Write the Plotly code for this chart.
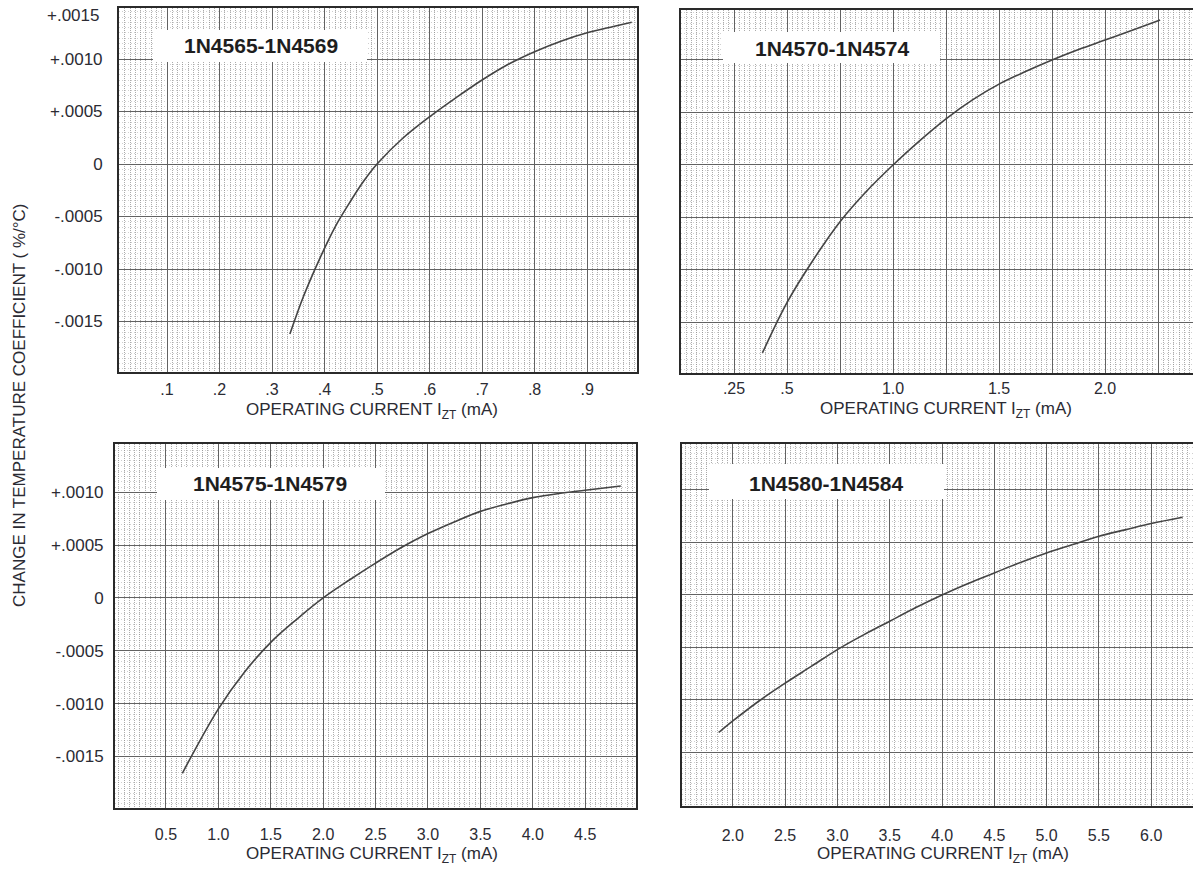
import plotly.graph_objects as go

# ---------------- data ----------------
names = ["1N4565-1N4569", "1N4570-1N4574", "1N4575-1N4579", "1N4580-1N4584"]

tl_x = [0.334, 0.36, 0.39, 0.42, 0.45, 0.475, 0.50, 0.55, 0.60, 0.65, 0.70, 0.75,
        0.80, 0.85, 0.90, 0.95, 0.985]
tl_y = [-0.00162, -0.00126, -0.00091, -0.00060, -0.00035, -0.00016, 0.0, 0.00025,
        0.00045, 0.00063, 0.00080, 0.00095, 0.00107, 0.00117, 0.00125, 0.00131, 0.00135]

tr_x = [0.384, 0.5, 0.625, 0.75, 0.875, 1.0, 1.125, 1.25, 1.375, 1.5, 1.625, 1.75,
        1.875, 2.0, 2.125, 2.26]
tr_y = [-0.00179, -0.00131, -0.00090, -0.00054, -0.00025, 0.0, 0.00023, 0.00044,
        0.00062, 0.00077, 0.00089, 0.00100, 0.00110, 0.00119, 0.00128, 0.00138]

bl_x = [0.656, 1.0, 1.25, 1.5, 1.75, 2.0, 2.25, 2.5, 2.75, 3.0, 3.25, 3.5, 3.75,
        4.0, 4.25, 4.5, 4.84]
bl_y = [-0.00166, -0.00105, -0.00070, -0.00042, -0.00020, 0.0, 0.00017, 0.00033,
        0.00048, 0.00061, 0.00072, 0.00082, 0.00089, 0.00095, 0.00099, 0.00102, 0.00106]

br_x = [1.865, 2.0, 2.25, 2.5, 2.75, 3.0, 3.25, 3.5, 3.75, 4.0, 4.25, 4.5, 4.75,
        5.0, 5.25, 5.5, 5.75, 6.0, 6.3]
br_y = [-0.00131, -0.00120, -0.00101, -0.00084, -0.00068, -0.00052, -0.00038, -0.00025,
        -0.00012, 0.0, 0.00011, 0.00021, 0.00031, 0.00040, 0.00048, 0.00056, 0.00062,
        0.00068, 0.00074]

# tick values / labels
y_tickvals = [-0.0015, -0.0010, -0.0005, 0.0, 0.0005, 0.0010]
y_ticktext = ["-.0015", "-.0010", "-.0005", "0", "+.0005", "+.0010"]
y_top_label = "+.0015"

tl_xtickvals = [0.1, 0.2, 0.3, 0.4, 0.5, 0.6, 0.7, 0.8, 0.9]
tl_xticktext = [".1", ".2", ".3", ".4", ".5", ".6", ".7", ".8", ".9"]
tr_xtickvals = [0.25, 0.5, 0.75, 1.0, 1.25, 1.5, 1.75, 2.0, 2.25]
tr_xticktext = [".25", ".5", "", "1.0", "", "1.5", "", "2.0", ""]
bl_xtickvals = [0.5, 1.0, 1.5, 2.0, 2.5, 3.0, 3.5, 4.0, 4.5]
bl_xticktext = ["0.5", "1.0", "1.5", "2.0", "2.5", "3.0", "3.5", "4.0", "4.5"]
br_xtickvals = [2.0, 2.5, 3.0, 3.5, 4.0, 4.5, 5.0, 5.5, 6.0]
br_xticktext = ["2.0", "2.5", "3.0", "3.5", "4.0", "4.5", "5.0", "5.5", "6.0"]

x_title = "OPERATING CURRENT I<sub>ZT</sub> (mA)"
y_title = "CHANGE IN TEMPERATURE COEFFICIENT ( %/°C)"

# ---------------- layout helpers ----------------
W, H = 1193, 870
FONT = "Liberation Sans, Arial, sans-serif"
TXT = "#2b2b33"


def px(v):
    return v / W


def py(v):
    return 1 - v / H


panels = [
    dict(x=tl_x, y=tl_y, dx=(119, 637), dy=(8, 372), xr=(0.0086, 0.995),
         yr=(-0.001981, 0.001486), tv=tl_xtickvals, tt=tl_xticktext, mx=0.01,
         showy=True, ys=11, xs=2, box=(153, 367, 30, 62), tc=(261, 46), at=(372, 411)),
    dict(x=tr_x, y=tr_y, dx=(681, 1193), dy=(10, 373), xr=(0.0, 2.415),
         yr=(-0.001981, 0.001476), tv=tr_xtickvals, tt=tr_xticktext, mx=0.025,
         showy=False, ys=0, xs=0, box=(723, 940, 32, 63), tc=(832, 48), at=(946, 410)),
    dict(x=bl_x, y=bl_y, dx=(115, 636), dy=(444, 808), xr=(0.0134, 4.985),
         yr=(-0.001989, 0.001458), tv=bl_xtickvals, tt=bl_xticktext, mx=0.05,
         showy=True, ys=6, xs=11, box=(157, 385, 468, 500), tc=(270, 483), at=(372, 855)),
    dict(x=br_x, y=br_y, dx=(682, 1193), dy=(444, 806), xr=(1.514, 6.40),
         yr=(-0.00201, 0.001438), tv=br_xtickvals, tt=br_xticktext, mx=0.05,
         showy=False, ys=0, xs=14, box=(709, 944, 464, 499), tc=(826, 483), at=(943, 855)),
]

fig = go.Figure()
layout = dict(
    width=W, height=H, margin=dict(l=0, r=0, t=0, b=0),
    paper_bgcolor="white", plot_bgcolor="white", showlegend=False,
    font=dict(family=FONT, color=TXT),
    shapes=[], annotations=[],
)

for i, (p, nm) in enumerate(zip(panels, names)):
    k = "" if i == 0 else str(i + 1)
    fig.add_trace(go.Scatter(
        x=p["x"], y=p["y"], mode="lines", xaxis="x" + k, yaxis="y" + k,
        line=dict(color="#444444", width=1.6, shape="spline", smoothing=1.0),
        hoverinfo="skip"))
    layout["xaxis" + k] = dict(
        domain=[px(p["dx"][0]), px(p["dx"][1])], range=list(p["xr"]),
        anchor="y" + k, tickmode="array", tickvals=p["tv"], ticktext=p["tt"],
        ticks="", ticklabelstandoff=p["xs"], zeroline=False,
        tickfont=dict(size=16, color=TXT, family=FONT),
        showgrid=True, gridcolor="#626262", gridwidth=1.4,
        showline=True, linecolor="#2a2a2a", linewidth=2, mirror=True,
        minor=dict(tickmode="linear", tick0=0, dtick=p["mx"], showgrid=True,
                   gridcolor="rgba(90,90,90,0.5)", griddash="1px,1px",
                   gridwidth=1, ticks=""),
    )
    layout["yaxis" + k] = dict(
        domain=[py(p["dy"][1]), py(p["dy"][0])], range=list(p["yr"]),
        anchor="x" + k, tickmode="array", tickvals=y_tickvals, ticktext=y_ticktext,
        showticklabels=p["showy"], ticks="", ticklabelstandoff=p["ys"], zeroline=False,
        tickfont=dict(size=17, color=TXT, family=FONT),
        showgrid=True, gridcolor="#626262", gridwidth=1.4,
        showline=True, linecolor="#2a2a2a", linewidth=2, mirror=p["showy"],
        minor=dict(tickmode="linear", tick0=0, dtick=0.00005, showgrid=True,
                   gridcolor="rgba(120,120,120,0.35)", griddash="1px,2px",
                   gridwidth=1, ticks=""),
    )
    b = p["box"]
    layout["shapes"].append(dict(
        type="rect", xref="paper", yref="paper", layer="above",
        x0=px(b[0]), x1=px(b[1]), y0=py(b[3]), y1=py(b[2]),
        fillcolor="white", line=dict(width=0)))
    layout["annotations"].append(dict(
        text=nm, xref="paper", yref="paper", x=px(p["tc"][0]), y=py(p["tc"][1]),
        xanchor="center", yanchor="middle", showarrow=False,
        font=dict(size=21, color="#1e1e1e", family=FONT, weight="bold")))
    layout["annotations"].append(dict(
        text=x_title, xref="paper", yref="paper", x=px(p["at"][0]), y=py(p["at"][1]),
        xanchor="center", yanchor="middle", showarrow=False,
        font=dict(size=17, color=TXT, family=FONT)))

layout["annotations"].append(dict(
    text=y_top_label, xref="paper", yref="paper", x=px(101), y=py(15),
    xanchor="right", yanchor="middle", showarrow=False,
    font=dict(size=17, color=TXT, family=FONT)))
layout["annotations"].append(dict(
    text=y_title, xref="paper", yref="paper", x=px(20), y=py(405),
    xanchor="center", yanchor="middle", textangle=-90, showarrow=False,
    font=dict(size=17, color=TXT, family=FONT)))

fig.update_layout(**layout)
fig.write_html("out.html", config={"displayModeBar": False},
               post_script="document.body.style.margin='0';document.body.style.overflow='hidden';")
